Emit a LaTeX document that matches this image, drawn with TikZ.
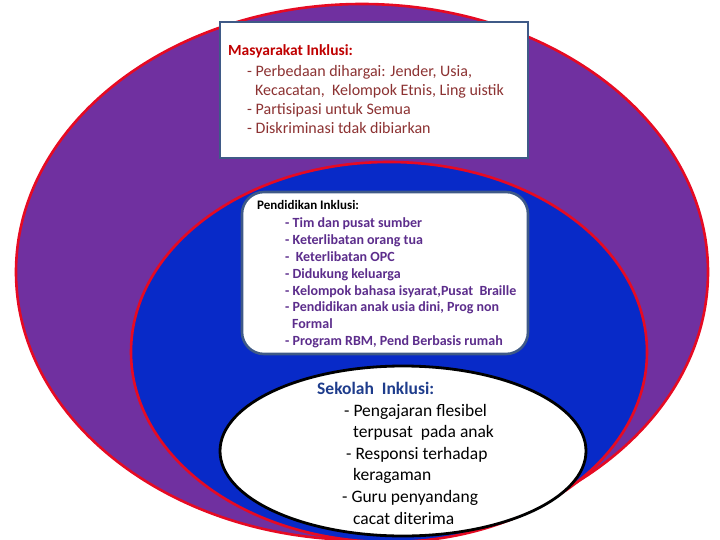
\documentclass[tikz,border=0pt]{standalone}
\usepackage{fontspec}
\setmainfont{Carlito}
\usepackage{tikz}

\definecolor{ringpurple}{RGB}{112,48,160}
\definecolor{ringblue}{RGB}{8,42,200}
\definecolor{ringred}{RGB}{230,10,35}
\definecolor{panelblue}{RGB}{63,90,135}
\definecolor{socred}{RGB}{192,0,0}
\definecolor{socbrown}{RGB}{140,50,50}
\definecolor{edupurple}{RGB}{92,45,140}
\definecolor{schblue}{RGB}{30,60,140}

\begin{document}
\begin{tikzpicture}[x=1pt, y=-1pt, every node/.style={inner sep=0pt, anchor=base west},
	ring/.style={draw=ringred, line width=2.6pt},
	panel/.style={draw=panelblue, line width=2.6pt, fill=white},
	soctext/.style={font=\fontsize{16}{19}\selectfont, text=socbrown},
	edutext/.style={font=\fontsize{14}{17}\selectfont\bfseries, text=edupurple},
	schtext/.style={font=\fontsize{17.5}{21}\selectfont, text=black}]
	\useasboundingbox (0,0) rectangle (720,540);
	\clip (0,0) rectangle (720,540);
	\filldraw[ring, fill=ringpurple] (362,272) ellipse [x radius=346, y radius=268];
	\filldraw[ring, fill=ringblue] (389,352) ellipse [x radius=258, y radius=190];
	\filldraw[draw=black, line width=2.8pt, fill=white] (403,451) ellipse [x radius=183, y radius=85];
	\draw[panel] (220,22) rectangle (528,158);
	\draw[panel, rounded corners=22pt] (242,192) rectangle (528,354);
	\node[font=\fontsize{15.5}{19}\selectfont\bfseries, text=socred] (soc) at (228,56) {Masyarakat Inklusi:};
	\foreach \x/\y/\t [count=\i] in {247/77/{- Perbedaan dihargai: Jender, Usia,}, 255/96/{Kecacatan,\ \ Kelompok Etnis, Ling uistik}, 247/115/{- Partisipasi untuk Semua}, 247/134/{- Diskriminasi tdak dibiarkan}} {\node[soctext] (soc\i) at (\x,\y) {\t};}
	\node[font=\fontsize{13}{16}\selectfont\bfseries, text=black] (edu) at (257,210) {Pendidikan Inklusi:};
	\foreach \x/\y/\t [count=\i] in {285/227/{- Tim dan pusat sumber}, 285/244/{- Keterlibatan orang tua}, 285/261/{-\ \ Keterlibatan OPC}, 285/278/{- Didukung keluarga}, 285/295/{- Kelompok bahasa isyarat,Pusat\ \ Braille}, 285/311/{- Pendidikan anak usia dini, Prog non}, 292/328/{Formal}, 285/345/{- Program RBM, Pend Berbasis rumah}} {\node[edutext] (edu\i) at (\x,\y) {\t};}
	\node[font=\fontsize{17.5}{21}\selectfont\bfseries, text=schblue] (sch) at (317,394) {Sekolah\ \ Inklusi:};
	\foreach \x/\y/\t [count=\i] in {344/416/{- Pengajaran flesibel}, 353/437/{terpusat\ \ pada anak}, 346/459/{- Responsi terhadap}, 353/480/{keragaman}, 342/502/{- Guru penyandang}, 353/524/{cacat diterima}} {\node[schtext] (sch\i) at (\x,\y) {\t};}
\end{tikzpicture}
\end{document}
